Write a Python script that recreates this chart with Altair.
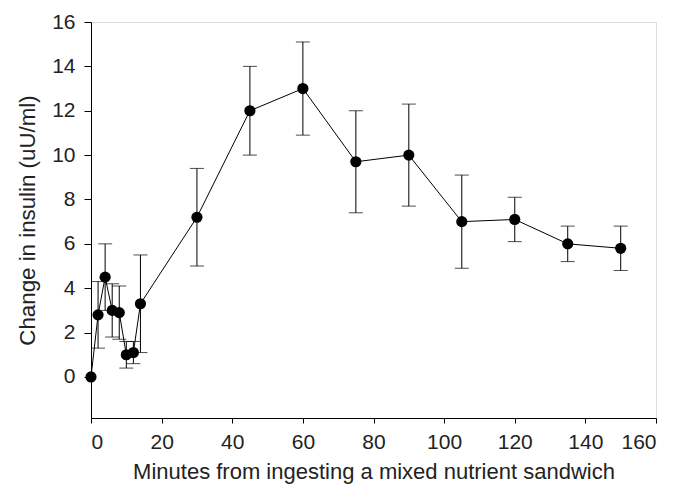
import altair as alt
import pandas as pd

minutes = [0, 2, 4, 6, 8, 10, 12, 14, 30, 45, 60, 75, 90, 105, 120, 135, 150]
insulin = [0.0, 2.8, 4.5, 3.0, 2.9, 1.0, 1.1, 3.3, 7.2, 12.0, 13.0, 9.7, 10.0, 7.0, 7.1, 6.0, 5.8]
err = [0.0, 1.5, 1.5, 1.2, 1.2, 0.6, 0.5, 2.2, 2.2, 2.0, 2.1, 2.3, 2.3, 2.1, 1.0, 0.8, 1.0]
x_ticks = list(range(0, 161, 20))
y_ticks = list(range(0, 17, 2))

df = pd.DataFrame({"t": minutes, "v": insulin, "e": err})
df["lo"] = df["v"] - df["e"]
df["hi"] = df["v"] + df["e"]
dfe = df[df["e"] > 0]

FONT = "Liberation Sans"
TXT = "#222222"

x = alt.X("t:Q", scale=alt.Scale(domain=[0, 160], nice=False, zero=False),
          axis=alt.Axis(values=x_ticks, title="Minutes from ingesting a mixed nutrient sandwich",
                        grid=False, domainColor="black", tickColor="black", tickSize=5,
                        labelFontSize=21, titleFontSize=22, labelPadding=8, titlePadding=9,
                        labelFont=FONT, titleFont=FONT,
                        labelColor=TXT, titleColor=TXT, titleFontWeight="normal"))
y = alt.Y("v:Q", scale=alt.Scale(domain=[-1.85, 16], nice=False, zero=False),
          axis=alt.Axis(values=y_ticks, title="Change in insulin (uU/ml)",
                        grid=False, domainColor="black", tickColor="black", tickSize=7,
                        labelFontSize=21, titleFontSize=22.3, labelPadding=9, titlePadding=12,
                        labelFont=FONT, titleFont=FONT,
                        labelColor=TXT, titleColor=TXT, titleFontWeight="normal"))

line = alt.Chart(df).mark_line(color="black", strokeWidth=1).encode(x=x, y=y)
bars = alt.Chart(dfe).mark_rule(color="black", strokeWidth=1).encode(x="t:Q", y="lo:Q", y2="hi:Q")
cap_lo = alt.Chart(dfe).mark_tick(color="black", orient="horizontal", size=14, thickness=1).encode(x="t:Q", y="lo:Q")
cap_hi = alt.Chart(dfe).mark_tick(color="black", orient="horizontal", size=14, thickness=1).encode(x="t:Q", y="hi:Q")
pts = alt.Chart(df).mark_point(filled=True, color="black", size=125, opacity=1).encode(x="t:Q", y="v:Q")

chart = alt.layer(line, bars, cap_lo, cap_hi, pts).properties(
    width=565, height=396,
    autosize=alt.AutoSizeParams(type="none"),
    padding={"left": 91, "top": 22, "right": 20, "bottom": 68},
).configure_view(stroke=None).configure(background="white")

chart.save("out.html", embed_options={"renderer": "svg", "actions": False})
